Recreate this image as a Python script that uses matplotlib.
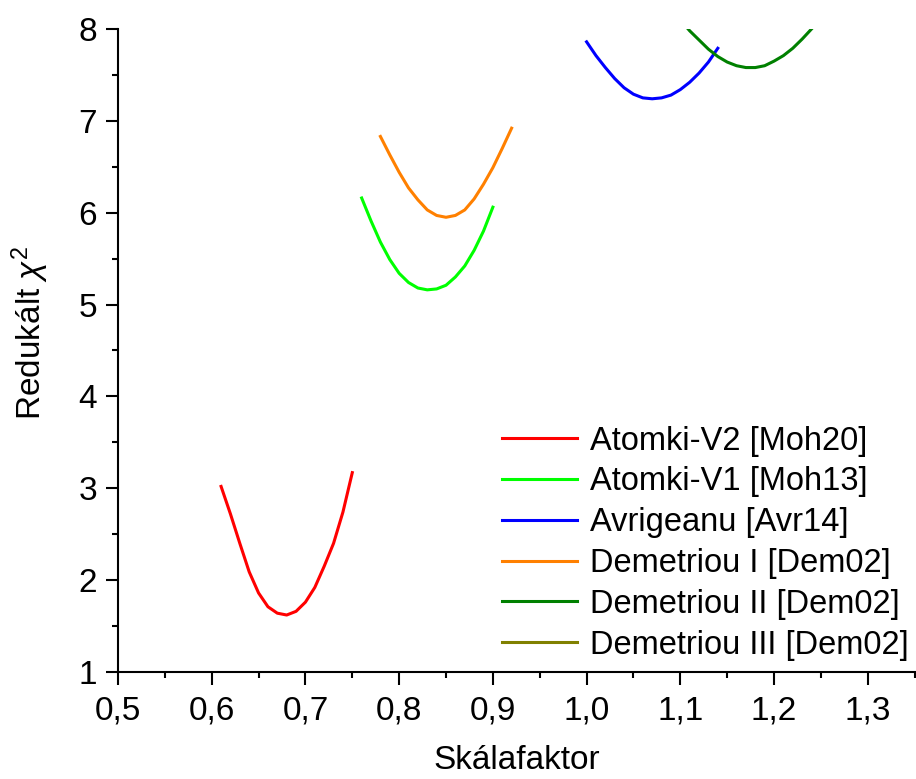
import matplotlib
matplotlib.use("Agg")
import matplotlib.pyplot as plt
from matplotlib.ticker import MultipleLocator, FuncFormatter

plt.rcParams['font.family'] = ['Liberation Sans', 'DejaVu Sans']
plt.rcParams['mathtext.fontset'] = 'custom'
plt.rcParams['mathtext.rm'] = 'Liberation Sans'
plt.rcParams['mathtext.it'] = 'Liberation Sans:italic'

# Adatok (leolvasva az ábráról)
x_v2 = [0.61, 0.62, 0.63, 0.64, 0.65, 0.66, 0.67, 0.68, 0.69, 0.70, 0.71, 0.72, 0.73, 0.74, 0.75]
y_v2 = [3.02, 2.72, 2.40, 2.09, 1.86, 1.71, 1.64, 1.62, 1.66, 1.76, 1.92, 2.15, 2.40, 2.74, 3.17]

x_v1 = [0.76, 0.77, 0.78, 0.79, 0.80, 0.81, 0.82, 0.83, 0.84, 0.85, 0.86, 0.87, 0.88, 0.89, 0.90]
y_v1 = [6.16, 5.91, 5.68, 5.49, 5.34, 5.24, 5.18, 5.16, 5.17, 5.21, 5.30, 5.42, 5.59, 5.80, 6.06]

x_avr = [1.00, 1.01, 1.02, 1.03, 1.04, 1.05, 1.06, 1.07, 1.08, 1.09, 1.10, 1.11, 1.12, 1.13, 1.14]
y_avr = [7.86, 7.71, 7.58, 7.46, 7.36, 7.29, 7.25, 7.24, 7.25, 7.28, 7.34, 7.42, 7.52, 7.64, 7.79]

x_dem1 = [0.78, 0.79, 0.80, 0.81, 0.82, 0.83, 0.84, 0.85, 0.86, 0.87, 0.88, 0.89, 0.90, 0.91, 0.92]
y_dem1 = [6.83, 6.63, 6.44, 6.27, 6.14, 6.03, 5.97, 5.95, 5.97, 6.03, 6.15, 6.31, 6.49, 6.70, 6.92]

x_dem2 = [1.10, 1.11, 1.12, 1.13, 1.14, 1.15, 1.16, 1.17, 1.18, 1.19, 1.20, 1.21, 1.22, 1.23, 1.24, 1.25]
y_dem2 = [8.10, 7.98, 7.88, 7.78, 7.70, 7.64, 7.60, 7.58, 7.58, 7.60, 7.65, 7.71, 7.79, 7.89, 8.00, 8.12]

# Demetriou III a látható tartományon kívül esik
x_dem3 = []
y_dem3 = []

series = [
    (x_v2, y_v2, '#ff0000', 'Atomki-V2 [Moh20]'),
    (x_v1, y_v1, '#00ff00', 'Atomki-V1 [Moh13]'),
    (x_avr, y_avr, '#0000ff', 'Avrigeanu [Avr14]'),
    (x_dem1, y_dem1, '#ff8000', 'Demetriou I [Dem02]'),
    (x_dem2, y_dem2, '#008000', 'Demetriou II [Dem02]'),
    (x_dem3, y_dem3, '#808000', 'Demetriou III [Dem02]'),
]

fig = plt.figure(figsize=(9.16, 7.79), dpi=100)
ax = fig.add_axes([0.1288, 0.1374, 0.8697, 0.8254])

for xs, ys, c, lab in series:
    ax.plot(xs, ys, color=c, lw=2.2, label=lab)

ax.set_xlim(0.5, 1.35)
ax.set_ylim(1, 8)

ax.spines['top'].set_visible(False)
ax.spines['right'].set_visible(False)
for s in ('left', 'bottom'):
    ax.spines[s].set_linewidth(1.5)

ax.xaxis.set_major_locator(MultipleLocator(0.1))
ax.xaxis.set_minor_locator(MultipleLocator(0.05))
ax.yaxis.set_major_locator(MultipleLocator(1))
ax.yaxis.set_minor_locator(MultipleLocator(0.5))
ax.xaxis.set_major_formatter(FuncFormatter(lambda v, p: f"{v:.1f}".replace('.', ',')))
ax.yaxis.set_major_formatter(FuncFormatter(lambda v, p: f"{v:.0f}"))

ax.tick_params(which='major', direction='out', length=9, width=1.5, labelsize=24)
ax.tick_params(axis='x', which='major', pad=8)
ax.tick_params(axis='y', which='major', pad=6)
ax.tick_params(which='minor', direction='out', length=4.5, width=1.5)

ax.set_xlabel('Skálafaktor', fontsize=24, labelpad=13)
ax.set_ylabel('Redukált $\\chi^2$', fontsize=24, labelpad=20)
ax.yaxis.label.set_y(0.527)

ax.legend(loc='upper left', bbox_to_anchor=(0.5235, 0.483), bbox_transform=fig.transFigure,
          frameon=False, fontsize=23.5, handlelength=2.3, handletextpad=0.37,
          labelspacing=0.3, borderpad=0.2)

fig.savefig('out.png', dpi=100)
